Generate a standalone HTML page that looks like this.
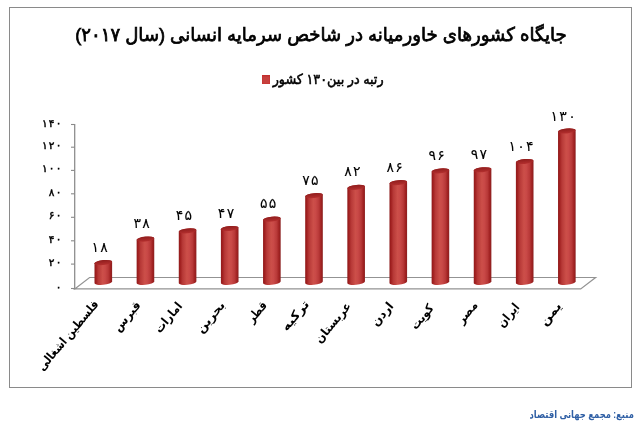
<!DOCTYPE html>
<html lang="fa"><head><meta charset="utf-8"><title>chart</title>
<style>
html,body{margin:0;padding:0;background:#fff;}
body{width:640px;height:440px;position:relative;overflow:hidden;font-family:"Liberation Sans","DejaVu Sans",sans-serif;color:#000;}
.frame{position:absolute;left:9px;top:7px;width:621px;height:379px;border:1px solid #8a8a8a;}
.t{position:absolute;white-space:nowrap;direction:rtl;line-height:1;}
.title{right:73.6px;top:25.3px;font-size:19px;font-weight:normal;-webkit-text-stroke:0.75px #000;transform-origin:100% 50%;transform:scaleX(0.953);}
.leg{right:256.6px;top:72.3px;font-size:14px;font-weight:normal;-webkit-text-stroke:0.55px #000;transform-origin:100% 50%;transform:scaleX(0.912);}
.sq{position:absolute;left:262px;top:75.3px;width:8px;height:8.6px;background:linear-gradient(#b82323,#c6403e 22%);box-shadow:inset 0 0 0 0.6px #c93231;}
.yl{font-size:10.5px;font-weight:normal;-webkit-text-stroke:0.45px #000;text-align:right;direction:ltr;}
.yl span{display:inline-block;margin-left:1.2px;}
.dl{font-size:14px;direction:ltr;-webkit-text-stroke:0.1px #000;}
.dl span{display:inline-block;margin:0 0.65px;}
.cl{font-size:12px;font-weight:bold;transform-origin:100% 0;}
.src{right:6.5px;top:409px;font-size:10.8px;font-weight:bold;color:#2f5fa5;transform-origin:100% 50%;transform:scaleX(0.78);}
</style></head><body>
<div class="frame"></div>
<svg width="640" height="440" viewBox="0 0 640 440" style="position:absolute;left:0;top:0">
<defs>
<linearGradient id="g" x1="0" y1="0" x2="1" y2="0">
<stop offset="0" stop-color="#8e1e1e"/>
<stop offset="0.07" stop-color="#9e1d1d"/>
<stop offset="0.22" stop-color="#b73937"/>
<stop offset="0.46" stop-color="#cc4f49"/>
<stop offset="0.60" stop-color="#c94947"/>
<stop offset="0.78" stop-color="#b83938"/>
<stop offset="0.91" stop-color="#a02121"/>
<stop offset="1" stop-color="#8a2020"/>
</linearGradient>
<linearGradient id="t" x1="0" y1="0" x2="0" y2="1">
<stop offset="0" stop-color="#8f1d1d"/>
<stop offset="1" stop-color="#b42f2e"/>
</linearGradient>
</defs>
<polygon points="74.7,288.9 89.6,277.5 595.6,277.5 580.7,288.9" fill="#fff" stroke="#939393" stroke-width="1.2" stroke-linejoin="miter"/>
<path d="M74.7,124 V289.4" stroke="#8a8a8a" stroke-width="1.25" fill="none"/>
<path d="M71,288.50 H74.7" stroke="#8a8a8a" stroke-width="1.1" fill="none"/>
<path d="M71,264.10 H74.7" stroke="#8a8a8a" stroke-width="1.1" fill="none"/>
<path d="M71,240.80 H74.7" stroke="#8a8a8a" stroke-width="1.1" fill="none"/>
<path d="M71,217.30 H74.7" stroke="#8a8a8a" stroke-width="1.1" fill="none"/>
<path d="M71,193.80 H74.7" stroke="#8a8a8a" stroke-width="1.1" fill="none"/>
<path d="M71,170.40 H74.7" stroke="#8a8a8a" stroke-width="1.1" fill="none"/>
<path d="M71,147.20 H74.7" stroke="#8a8a8a" stroke-width="1.1" fill="none"/>
<path d="M71,124.50 H74.7" stroke="#8a8a8a" stroke-width="1.1" fill="none"/>
<path d="M94.49,263.33 V283.18 A8.85,2.45 -5.5 0 0 112.11,281.62 V261.77 A8.85,2.45 -5.5 0 0 94.49,263.33 Z" fill="url(#g)"/>
<ellipse cx="103.30" cy="262.55" rx="8.85" ry="2.45" fill="url(#t)" transform="rotate(-5.5 103.30 262.55)"/>
<path d="M136.63,239.83 V283.18 A8.85,2.45 -5.5 0 0 154.25,281.62 V238.27 A8.85,2.45 -5.5 0 0 136.63,239.83 Z" fill="url(#g)"/>
<ellipse cx="145.44" cy="239.05" rx="8.85" ry="2.45" fill="url(#t)" transform="rotate(-5.5 145.44 239.05)"/>
<path d="M178.77,231.61 V283.18 A8.85,2.45 -5.5 0 0 196.39,281.62 V230.04 A8.85,2.45 -5.5 0 0 178.77,231.61 Z" fill="url(#g)"/>
<ellipse cx="187.58" cy="230.82" rx="8.85" ry="2.45" fill="url(#t)" transform="rotate(-5.5 187.58 230.82)"/>
<path d="M220.91,229.26 V283.18 A8.85,2.45 -5.5 0 0 238.53,281.62 V227.69 A8.85,2.45 -5.5 0 0 220.91,229.26 Z" fill="url(#g)"/>
<ellipse cx="229.72" cy="228.47" rx="8.85" ry="2.45" fill="url(#t)" transform="rotate(-5.5 229.72 228.47)"/>
<path d="M263.05,219.86 V283.18 A8.85,2.45 -5.5 0 0 280.67,281.62 V218.29 A8.85,2.45 -5.5 0 0 263.05,219.86 Z" fill="url(#g)"/>
<ellipse cx="271.86" cy="219.07" rx="8.85" ry="2.45" fill="url(#t)" transform="rotate(-5.5 271.86 219.07)"/>
<path d="M305.19,196.36 V283.18 A8.85,2.45 -5.5 0 0 322.81,281.62 V194.79 A8.85,2.45 -5.5 0 0 305.19,196.36 Z" fill="url(#g)"/>
<ellipse cx="314.00" cy="195.57" rx="8.85" ry="2.45" fill="url(#t)" transform="rotate(-5.5 314.00 195.57)"/>
<path d="M347.33,188.13 V283.18 A8.85,2.45 -5.5 0 0 364.95,281.62 V186.57 A8.85,2.45 -5.5 0 0 347.33,188.13 Z" fill="url(#g)"/>
<ellipse cx="356.14" cy="187.35" rx="8.85" ry="2.45" fill="url(#t)" transform="rotate(-5.5 356.14 187.35)"/>
<path d="M389.47,183.43 V283.18 A8.85,2.45 -5.5 0 0 407.09,281.62 V181.87 A8.85,2.45 -5.5 0 0 389.47,183.43 Z" fill="url(#g)"/>
<ellipse cx="398.28" cy="182.65" rx="8.85" ry="2.45" fill="url(#t)" transform="rotate(-5.5 398.28 182.65)"/>
<path d="M431.61,171.68 V283.18 A8.85,2.45 -5.5 0 0 449.23,281.62 V170.12 A8.85,2.45 -5.5 0 0 431.61,171.68 Z" fill="url(#g)"/>
<ellipse cx="440.42" cy="170.90" rx="8.85" ry="2.45" fill="url(#t)" transform="rotate(-5.5 440.42 170.90)"/>
<path d="M473.75,170.51 V283.18 A8.85,2.45 -5.5 0 0 491.37,281.62 V168.94 A8.85,2.45 -5.5 0 0 473.75,170.51 Z" fill="url(#g)"/>
<ellipse cx="482.56" cy="169.72" rx="8.85" ry="2.45" fill="url(#t)" transform="rotate(-5.5 482.56 169.72)"/>
<path d="M515.89,162.28 V283.18 A8.85,2.45 -5.5 0 0 533.51,281.62 V160.72 A8.85,2.45 -5.5 0 0 515.89,162.28 Z" fill="url(#g)"/>
<ellipse cx="524.70" cy="161.50" rx="8.85" ry="2.45" fill="url(#t)" transform="rotate(-5.5 524.70 161.50)"/>
<path d="M558.03,131.73 V283.18 A8.85,2.45 -5.5 0 0 575.65,281.62 V130.17 A8.85,2.45 -5.5 0 0 558.03,131.73 Z" fill="url(#g)"/>
<ellipse cx="566.84" cy="130.95" rx="8.85" ry="2.45" fill="url(#t)" transform="rotate(-5.5 566.84 130.95)"/>
</svg>
<div class="t title">جایگاه کشورهای خاورمیانه در شاخص سرمایه انسانی (سال ۲۰۱۷)</div>
<div class="sq"></div><div class="t leg">رتبه در بین۱۳۰ کشور</div>
<div class="t yl" style="right:578.7px;top:281.5px"><span>۰</span></div>
<div class="t yl" style="right:578.7px;top:257.1px"><span>۲</span><span>۰</span></div>
<div class="t yl" style="right:578.7px;top:233.8px"><span>۴</span><span>۰</span></div>
<div class="t yl" style="right:578.7px;top:210.3px"><span>۶</span><span>۰</span></div>
<div class="t yl" style="right:578.7px;top:186.8px"><span>۸</span><span>۰</span></div>
<div class="t yl" style="right:578.7px;top:163.4px"><span>۱</span><span>۰</span><span>۰</span></div>
<div class="t yl" style="right:578.7px;top:140.2px"><span>۱</span><span>۲</span><span>۰</span></div>
<div class="t yl" style="right:578.7px;top:117.5px"><span>۱</span><span>۴</span><span>۰</span></div>
<div class="t dl" style="left:79.6px;width:40px;text-align:center;top:239.7px"><span>۱</span><span>۸</span></div>
<div class="t dl" style="left:121.7px;width:40px;text-align:center;top:216.1px"><span>۳</span><span>۸</span></div>
<div class="t dl" style="left:163.9px;width:40px;text-align:center;top:207.9px"><span>۴</span><span>۵</span></div>
<div class="t dl" style="left:206.0px;width:40px;text-align:center;top:205.6px"><span>۴</span><span>۷</span></div>
<div class="t dl" style="left:248.2px;width:40px;text-align:center;top:196.2px"><span>۵</span><span>۵</span></div>
<div class="t dl" style="left:290.3px;width:40px;text-align:center;top:172.7px"><span>۷</span><span>۵</span></div>
<div class="t dl" style="left:332.4px;width:40px;text-align:center;top:164.4px"><span>۸</span><span>۲</span></div>
<div class="t dl" style="left:374.6px;width:40px;text-align:center;top:159.7px"><span>۸</span><span>۶</span></div>
<div class="t dl" style="left:416.7px;width:40px;text-align:center;top:148.0px"><span>۹</span><span>۶</span></div>
<div class="t dl" style="left:458.9px;width:40px;text-align:center;top:146.8px"><span>۹</span><span>۷</span></div>
<div class="t dl" style="left:501.0px;width:40px;text-align:center;top:138.6px"><span>۱</span><span>۰</span><span>۴</span></div>
<div class="t dl" style="left:543.1px;width:40px;text-align:center;top:108.7px"><span>۱</span><span>۳</span><span>۰</span></div>
<div class="t cl" style="right:548.7px;top:297.5px;transform:rotate(-50deg) scaleX(0.88)">فلسطین اشغالی</div>
<div class="t cl" style="right:506.1px;top:299.0px;transform:rotate(-50deg) scaleX(0.96)">قبرس</div>
<div class="t cl" style="right:464.5px;top:299.5px;transform:rotate(-50deg) scaleX(0.91)">امارات</div>
<div class="t cl" style="right:421.8px;top:299.0px;transform:rotate(-50deg) scaleX(1.03)">بحرین</div>
<div class="t cl" style="right:379.6px;top:298.5px;transform:rotate(-50deg) scaleX(0.87)">قطر</div>
<div class="t cl" style="right:337.5px;top:297.5px;transform:rotate(-50deg) scaleX(1.15)">ترکیه</div>
<div class="t cl" style="right:296.0px;top:300.4px;transform:rotate(-50deg) scaleX(0.94)">عربستان</div>
<div class="t cl" style="right:253.5px;top:300.2px;transform:rotate(-50deg) scaleX(0.98)">اردن</div>
<div class="t cl" style="right:213.1px;top:301.5px;transform:rotate(-50deg) scaleX(0.9)">کویت</div>
<div class="t cl" style="right:168.9px;top:299.3px;transform:rotate(-50deg) scaleX(0.93)">مصر</div>
<div class="t cl" style="right:127.5px;top:301.0px;transform:rotate(-50deg) scaleX(0.89)">ایران</div>
<div class="t cl" style="right:85.2px;top:299.8px;transform:rotate(-50deg) scaleX(1.12)">یمن</div>
<div class="t src">منبع: مجمع جهانی اقتصاد</div>
</body></html>
